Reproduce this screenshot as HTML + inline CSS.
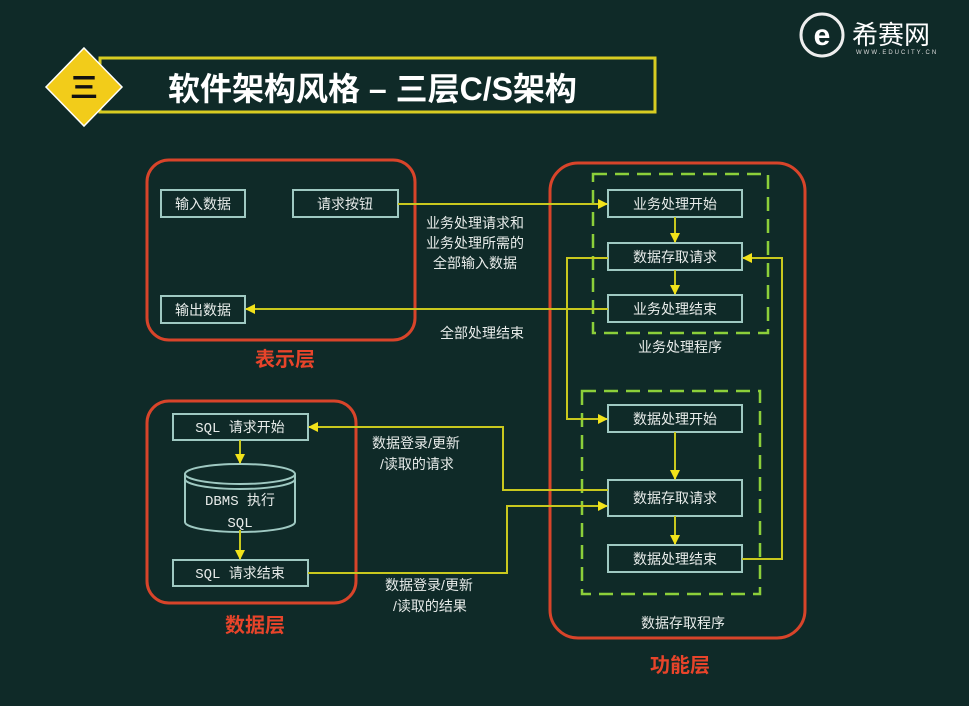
<!DOCTYPE html>
<html><head><meta charset="utf-8"><style>
html,body{margin:0;padding:0;background:#0f2a28;}
svg{display:block}
text{font-family:"Liberation Sans","Noto Sans CJK SC",sans-serif;fill:#e8ecea;}
.b{fill:none;stroke:#9fc9c2;stroke-width:2}
.r{fill:none;stroke:#d8442a;stroke-width:3}
.g{fill:none;stroke:#8ccf3a;stroke-width:2.5;stroke-dasharray:14 8}
.y{fill:none;stroke:#c9c81e;stroke-width:2}
.t{font-size:14px;text-anchor:middle}
.l{font-size:14px}
.red{fill:#e8442a;font-size:20px;font-weight:bold;text-anchor:middle}
</style></head><body>
<svg width="969" height="706" viewBox="0 0 969 706" xmlns="http://www.w3.org/2000/svg">
<defs><marker id="a" markerWidth="10" markerHeight="10" refX="9" refY="5" orient="auto" markerUnits="userSpaceOnUse"><path d="M0,0 L10,5 L0,10 z" fill="#f2e21a"/></marker></defs>
<rect width="969" height="706" fill="#0f2a28"/>
<!-- title -->
<rect x="100" y="58" width="555" height="54" fill="none" stroke="#d8cc22" stroke-width="3"/>
<polygon points="84,48 122,87 84,126 46,87" fill="#f2cc1a" stroke="#fff" stroke-width="1.5"/>
<text x="84" y="97" style="font-size:28px;font-weight:bold;fill:#111;text-anchor:middle">三</text>
<text x="168" y="100" style="font-size:32px;font-weight:bold;fill:#fff">软件架构风格 – 三层C/S架构</text>
<!-- logo -->
<circle cx="822" cy="35" r="21" fill="none" stroke="#eee" stroke-width="3"/>
<text x="822" y="45" style="font-size:30px;font-weight:bold;text-anchor:middle;fill:#fff">e</text>
<text x="852" y="44" style="font-size:26px;fill:#fff">希赛网</text>
<text x="856" y="54" style="font-size:6px;fill:#ddd;letter-spacing:2px">WWW.EDUCITY.CN</text>
<!-- presentation -->
<rect class="r" x="147" y="160" width="268" height="180" rx="22"/>
<rect class="b" x="161" y="190" width="84" height="27"/><text class="t" x="203" y="209">输入数据</text>
<rect class="b" x="293" y="190" width="105" height="27"/><text class="t" x="345" y="209">请求按钮</text>
<rect class="b" x="161" y="296" width="84" height="27"/><text class="t" x="203" y="315">输出数据</text>
<text class="red" x="285" y="366">表示层</text>
<!-- data -->
<rect class="r" x="147" y="401" width="209" height="202" rx="22"/>
<rect class="b" x="173" y="414" width="135" height="26"/><text class="t" x="240" y="432" style="font-family:'Liberation Mono','Noto Sans CJK SC',monospace">SQL 请求开始</text>
<path class="b" d="M185,474 L185,522 A55,10 0 0 0 295,522 L295,474"/>
<ellipse class="b" cx="240" cy="474" rx="55" ry="10"/>
<path class="b" d="M185,479 A55,10 0 0 0 295,479" />
<text class="t" x="240" y="505" style="font-family:'Liberation Mono','Noto Sans CJK SC',monospace">DBMS 执行</text>
<text class="t" x="240" y="527" style="font-family:'Liberation Mono',monospace">SQL</text>
<rect class="b" x="173" y="560" width="135" height="26"/><text class="t" x="240" y="578" style="font-family:'Liberation Mono','Noto Sans CJK SC',monospace">SQL 请求结束</text>
<line class="y" x1="240" y1="440" x2="240" y2="463" marker-end="url(#a)"/>
<line class="y" x1="240" y1="530" x2="240" y2="559" marker-end="url(#a)"/>
<text class="red" x="255" y="632">数据层</text>
<!-- function -->
<rect class="r" x="550" y="163" width="255" height="475" rx="28"/>
<rect class="g" x="593" y="174" width="175" height="159"/>
<rect class="g" x="582" y="391" width="178" height="203"/>
<rect class="b" x="608" y="190" width="134" height="27"/><text class="t" x="675" y="209">业务处理开始</text>
<rect class="b" x="608" y="243" width="134" height="27"/><text class="t" x="675" y="262">数据存取请求</text>
<rect class="b" x="608" y="295" width="134" height="27"/><text class="t" x="675" y="314">业务处理结束</text>
<text class="t" x="680" y="352">业务处理程序</text>
<rect class="b" x="608" y="405" width="134" height="27"/><text class="t" x="675" y="424">数据处理开始</text>
<rect class="b" x="608" y="480" width="134" height="36"/><text class="t" x="675" y="503">数据存取请求</text>
<rect class="b" x="608" y="545" width="134" height="27"/><text class="t" x="675" y="564">数据处理结束</text>
<text class="t" x="683" y="628">数据存取程序</text>
<text class="red" x="680" y="672">功能层</text>
<line class="y" x1="675" y1="217" x2="675" y2="242" marker-end="url(#a)"/>
<line class="y" x1="675" y1="270" x2="675" y2="294" marker-end="url(#a)"/>
<line class="y" x1="675" y1="432" x2="675" y2="479" marker-end="url(#a)"/>
<line class="y" x1="675" y1="516" x2="675" y2="544" marker-end="url(#a)"/>
<!-- connectors -->
<line class="y" x1="398" y1="204" x2="607" y2="204" marker-end="url(#a)"/>
<line class="y" x1="608" y1="309" x2="246" y2="309" marker-end="url(#a)"/>
<polyline class="y" points="608,258 567,258 567,419 607,419" marker-end="url(#a)"/>
<polyline class="y" points="742,559 782,559 782,258 743,258" marker-end="url(#a)"/>
<polyline class="y" points="608,490 503,490 503,427 309,427" marker-end="url(#a)"/>
<polyline class="y" points="308,573 507,573 507,506 607,506" marker-end="url(#a)"/>
<text class="l" x="426" y="228">业务处理请求和</text>
<text class="l" x="426" y="248">业务处理所需的</text>
<text class="l" x="433" y="268">全部输入数据</text>
<text class="l" x="440" y="338">全部处理结束</text>
<text class="l" x="372" y="448">数据登录/更新</text>
<text class="l" x="380" y="469">/读取的请求</text>
<text class="l" x="385" y="590">数据登录/更新</text>
<text class="l" x="393" y="611">/读取的结果</text>
</svg>
</body></html>
